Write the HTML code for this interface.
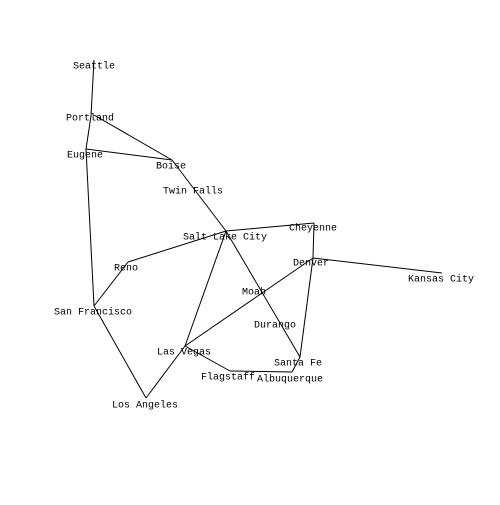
<!DOCTYPE html>
<html><head><style>
body{margin:0;background:#fff}
svg text{font-family:"Liberation Mono",monospace;font-size:10px;fill:#000;text-anchor:middle;dominant-baseline:middle}
</style></head><body>
<svg width="500" height="500" viewBox="0 0 500 500" xmlns="http://www.w3.org/2000/svg">
<g stroke="#000" stroke-width="1" fill="none">
<line x1="94" y1="60" x2="91" y2="116"/>
<line x1="91" y1="116" x2="86" y2="149"/>
<line x1="94" y1="115" x2="172" y2="160"/>
<line x1="86" y1="149" x2="172" y2="160"/>
<line x1="86" y1="149" x2="94" y2="306"/>
<line x1="172" y1="160" x2="226" y2="231"/>
<line x1="226" y1="231" x2="314" y2="223"/>
<line x1="314" y1="223" x2="313" y2="258"/>
<line x1="313" y1="258" x2="442" y2="273"/>
<line x1="313" y1="258" x2="300" y2="357"/>
<line x1="226" y1="231" x2="300" y2="357"/>
<line x1="313" y1="258" x2="185" y2="346"/>
<line x1="226" y1="231" x2="185" y2="346"/>
<line x1="185" y1="346" x2="230" y2="371"/>
<line x1="230" y1="371" x2="292" y2="372"/>
<line x1="292" y1="372" x2="300" y2="357"/>
<line x1="185" y1="346" x2="146" y2="398"/>
<line x1="146" y1="398" x2="94" y2="306"/>
<line x1="94" y1="306" x2="128" y2="262"/>
<line x1="128" y1="262" x2="226" y2="231"/>
</g>
<text x="94" y="66">Seattle</text>
<text x="90" y="118">Portland</text>
<text x="85" y="155">Eugene</text>
<text x="171" y="166">Boise</text>
<text x="193" y="191">Twin Falls</text>
<text x="225" y="237">Salt Lake City</text>
<text x="313" y="228">Cheyenne</text>
<text x="311" y="263">Denver</text>
<text x="441" y="279">Kansas City</text>
<text x="126" y="268">Reno</text>
<text x="254" y="292">Moab</text>
<text x="275" y="325">Durango</text>
<text x="93" y="312">San Francisco</text>
<text x="184" y="352">Las Vegas</text>
<text x="298" y="363">Santa Fe</text>
<text x="228" y="377">Flagstaff</text>
<text x="290" y="379">Albuquerque</text>
<text x="145" y="405">Los Angeles</text>
</svg>
</body></html>
